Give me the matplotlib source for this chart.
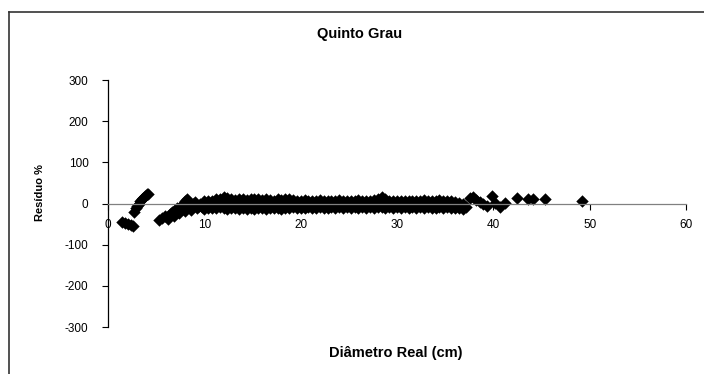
import matplotlib
matplotlib.use("Agg")
import matplotlib.pyplot as plt
from matplotlib.lines import Line2D

plt.rcParams['font.family'] = ['Liberation Sans', 'DejaVu Sans']
plt.rcParams['axes.unicode_minus'] = False

title = "Quinto Grau"
xlabel = "Diâmetro Real (cm)"
ylabel = "Resíduo %"
xticks = [0, 10, 20, 30, 40, 50, 60]
yticks = [-300, -200, -100, 0, 100, 200, 300]

# small trees
early_x = [1.5, 1.8, 2.1, 2.4, 2.6,
           2.7, 2.9, 3.0, 3.2, 3.3, 3.5, 3.6, 3.8, 4.0, 4.2,
           5.3, 5.6, 5.9, 6.2, 6.4, 6.6, 6.8, 7.0, 7.2, 7.4, 7.6, 7.8, 8.0, 8.2,
           8.0, 8.4, 8.6, 8.8, 9.0, 9.2, 9.4, 9.6, 9.8]
early_y = [-45, -48, -50, -53, -55,
           -20, -12, -5, 0, 5, 10, 14, 18, 22, 24,
           -40, -35, -30, -38, -25, -20, -30, -15, -10, -22, -5, 0, 5, 10,
           -18, -8, -15, -2, 3, -12, -5, 0, -8]

# dense band
band_x = [10.0, 10.4, 10.8, 11.2, 11.6, 12.0, 12.4, 12.8, 13.2, 13.6,
          14.0, 14.4, 14.8, 15.2, 15.6, 16.0, 16.4, 16.8, 17.2, 17.6,
          18.0, 18.4, 18.8, 19.2, 19.6, 20.0, 20.4, 20.8, 21.2, 21.6,
          22.0, 22.4, 22.8, 23.2, 23.6, 24.0, 24.4, 24.8, 25.2, 25.6,
          26.0, 26.4, 26.8, 27.2, 27.6, 28.0, 28.4, 28.8, 29.2, 29.6,
          30.0, 30.4, 30.8, 31.2, 31.6, 32.0, 32.4, 32.8, 33.2, 33.6,
          34.0, 34.4, 34.8, 35.2, 35.6, 36.0, 36.4, 36.8]
band_hi = [5, 7, 6, 10, 12, 15, 13, 11, 8, 10,
           12, 9, 11, 12, 10, 8, 11, 9, 7, 10,
           8, 11, 12, 9, 7, 6, 8, 5, 7, 6,
           8, 5, 6, 7, 5, 8, 6, 7, 5, 6,
           8, 7, 5, 6, 9, 12, 17, 10, 7, 6,
           5, 7, 6, 5, 7, 6, 5, 8, 6, 7,
           5, 8, 6, 7, 5, 4, 2, 0]
band_mid = [-4, -2, 0, -3, 1, 2, -1, 0, -2, 1,
            0, -2, 1, -1, 0, -3, 2, 0, -2, 1,
            -1, 0, 2, -2, 0, -1, 1, -2, 0, -1,
            1, -2, 0, -1, 1, -2, 0, 1, -1, 0,
            -2, 1, 0, -1, 2, 3, 4, 1, -1, 0,
            -2, 0, 1, -1, 0, -2, 1, 0, -1, -2,
            0, -1, 1, -2, 0, -3, -4, -5]
band_lo = [-14, -11, -10, -12, -9, -11, -13, -10, -12, -14,
           -11, -13, -10, -14, -12, -11, -13, -10, -12, -11,
           -13, -10, -11, -9, -12, -10, -11, -9, -10, -11,
           -9, -10, -11, -8, -10, -9, -11, -8, -10, -9,
           -10, -8, -11, -9, -10, -8, -9, -11, -8, -10,
           -9, -11, -8, -10, -9, -11, -8, -10, -9, -11,
           -10, -8, -11, -9, -12, -10, -12, -13]

# large trees
tail_x = [37.2, 37.6, 37.9, 38.2, 38.6, 38.9, 39.3, 39.9, 40.2, 40.7, 41.2, 42.5, 43.6, 44.1, 45.4, 49.2]
tail_y = [-8, 14, 15, 8, 3, 0, -6, 19, 2, -8, 2, 14, 10, 12, 12, 5]

fig = plt.figure(figsize=(7.04, 3.74), dpi=100)
ax = fig.add_axes([108/704, 1-327/374, (686-108)/704, (327-80)/374])

mk = dict(marker='D', s=40, color='black', linewidths=0)
ax.scatter(early_x, early_y, **mk)
for ys in (band_hi, band_mid, band_lo):
    ax.scatter(band_x, ys, **mk)
ax.scatter(tail_x, tail_y, **mk)

ax.set_xlim(0, 60)
ax.set_ylim(-300, 300)
ax.set_xticks(xticks)
ax.set_yticks(yticks)
ax.spines['right'].set_visible(False)
ax.spines['top'].set_visible(False)
ax.spines['bottom'].set_position(('data', 0))
ax.spines['bottom'].set_color('#808080')
ax.spines['bottom'].set_linewidth(0.9)
ax.spines['left'].set_linewidth(0.9)
ax.tick_params(axis='both', direction='out', length=4, width=0.8, labelsize=8.5)
ax.tick_params(axis='y', pad=10)
ax.tick_params(axis='x', colors='black', pad=7)
ax.set_facecolor('none')

fig.text(360/704, 1-34/374, title, ha='center', va='center', fontsize=10.5, fontweight='bold')
fig.text(396/704, 1-353/374, xlabel, ha='center', va='center', fontsize=10.5, fontweight='bold')
fig.text(40/704, 1-193/374, ylabel, ha='center', va='center', fontsize=8, fontweight='bold', rotation=90)

fig.add_artist(Line2D([9/704, 9/704], [0, 1-12/374], transform=fig.transFigure, color='#333333', lw=1.2))
fig.add_artist(Line2D([9/704, 1], [1-12/374, 1-12/374], transform=fig.transFigure, color='#333333', lw=1.2))

fig.savefig("out.png", dpi=100)
